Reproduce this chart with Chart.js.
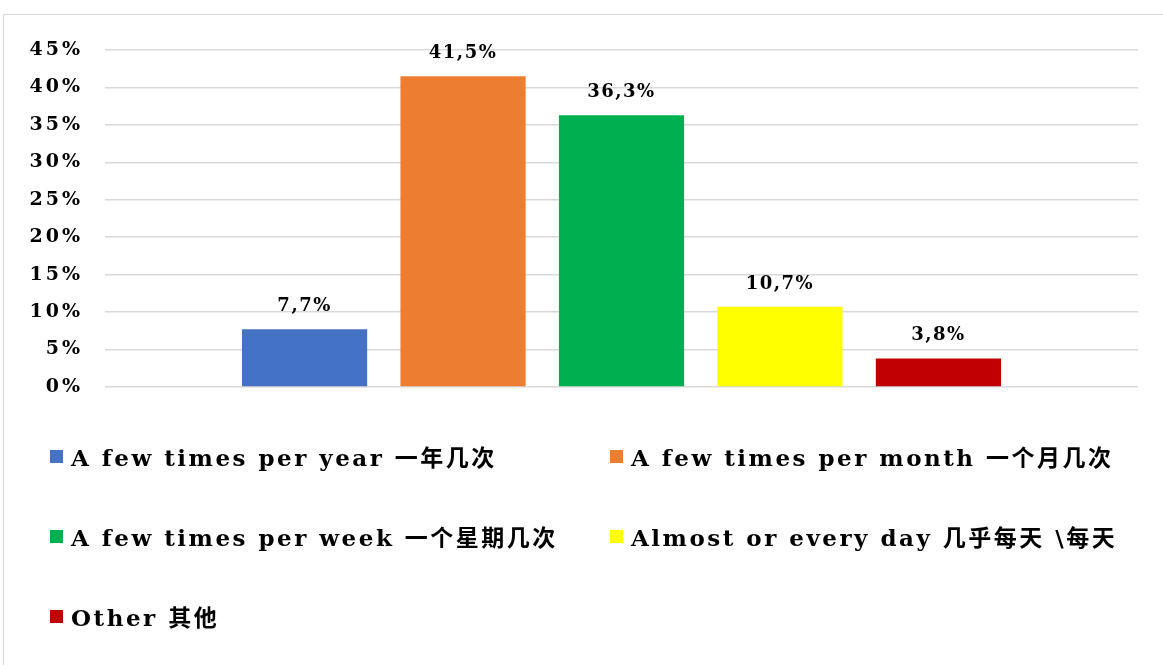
<!DOCTYPE html>
<html>
<head>
<meta charset="utf-8">
<script src="https://cdn.jsdelivr.net/npm/chart.js@4.4.0/dist/chart.umd.min.js"></script>
<style>
  html, body { margin: 0; padding: 0; background: #fff; }
  body { width: 1163px; height: 665px; overflow: hidden; position: relative; }
  #frame {
    position: absolute; left: 3px; top: 14px; width: 1300px; height: 800px;
    border-left: 1.5px solid #d9d9d9; border-top: 1.5px solid #d9d9d9;
  }
  #chartCanvas { position: absolute; left: 0; top: 0; }
  #legend {
    position: absolute; left: 50px; top: 416px; margin: 0; padding: 0;
    list-style: none; display: grid;
    grid-template-columns: 560px auto; grid-auto-rows: 80px; align-items: center;
    font-family: "DejaVu Serif", "Noto Sans CJK SC", serif; font-weight: bold;
    font-size: 23px; letter-spacing: 2.5px; color: #000;
  }
  #legend li { display: flex; align-items: center; white-space: nowrap; }
  #legend .box { width: 13px; height: 13px; margin-right: 8px; flex: none; }
</style>
</head>
<body>
<div id="frame"></div>
<canvas id="chartCanvas" width="1163" height="421"></canvas>
<ul id="legend"></ul>
<script>
// answer options (one bar each)
const categories = [
  "A few times per year 一年几次",
  "A few times per month 一个月几次",
  "A few times per week 一个星期几次",
  "Almost or every day 几乎每天 \\每天",
  "Other 其他"
];
const values = [7.7, 41.5, 36.3, 10.7, 3.8];
const colors = ["#4472c4", "#ed7d31", "#00b050", "#ffff00", "#c00000"];

// y axis ticks, in percent
const yMin = 0;
const yMax = 45;
const yStep = 5;

const FONT = '"DejaVu Serif", "Noto Sans CJK SC", serif';

function pct(v) {
    return v.toFixed(1).replace(".", ",") + "%";
}

// value labels above each bar
const barLabels = {
    id: "barLabels",
    afterDatasetsDraw(chart) {
        const ctx = chart.ctx;
        ctx.save();
        ctx.font = "bold 18px " + FONT;
        ctx.letterSpacing = "1.5px";
        ctx.fillStyle = "#000";
        ctx.textAlign = "center";
        ctx.textBaseline = "bottom";
        chart.data.datasets.forEach((ds, i) => {
            const bar = chart.getDatasetMeta(i).data[0];
            if (!bar) return;
            ctx.fillText(pct(ds.data[0]), bar.x, bar.y - 14);
        });
        ctx.restore();
    }
};

// wider letter spacing for tick text
const spacing = {
    id: "spacing",
    beforeDraw(chart) {
        chart.ctx.letterSpacing = "3px";
    }
};

const canvas = document.getElementById("chartCanvas");
const chart = new Chart(canvas.getContext("2d"), {
    type: "bar",
    data: {
        labels: [""],
        datasets: categories.map((name, i) => ({
            label: name,
            data: [values[i]],
            backgroundColor: colors[i],
            borderWidth: 0,
        })),
    },
    options: {
        responsive: false,
        animation: false,
        devicePixelRatio: 1,
        categoryPercentage: 0.767,
        barPercentage: 0.79,
        layout: { padding: { left: 0, right: 25, top: 50, bottom: 34 } },
        plugins: {
            legend: { display: false },
            tooltip: { enabled: false },
        },
        scales: {
            x: { display: false },
            y: {
                min: yMin,
                max: yMax,
                afterFit(scale) { scale.width = 105; },
                ticks: {
                    stepSize: yStep,
                    padding: 22,
                    color: "#000",
                    font: { family: FONT, size: 19, weight: "bold" },
                    callback: v => v + "%",
                },
                grid: { color: "#d9d9d9", lineWidth: 1.5, drawTicks: false },
                border: { display: false },
            },
        },
    },
    plugins: [spacing, barLabels],
});

// two-column legend under the plot
const legendEl = document.getElementById("legend");
Chart.defaults.plugins.legend.labels.generateLabels(chart).forEach(item => {
    const li = document.createElement("li");
    const box = document.createElement("span");
    box.className = "box";
    box.style.background = item.fillStyle;
    li.appendChild(box);
    li.appendChild(document.createTextNode(item.text));
    legendEl.appendChild(li);
});
</script>
</body>
</html>
